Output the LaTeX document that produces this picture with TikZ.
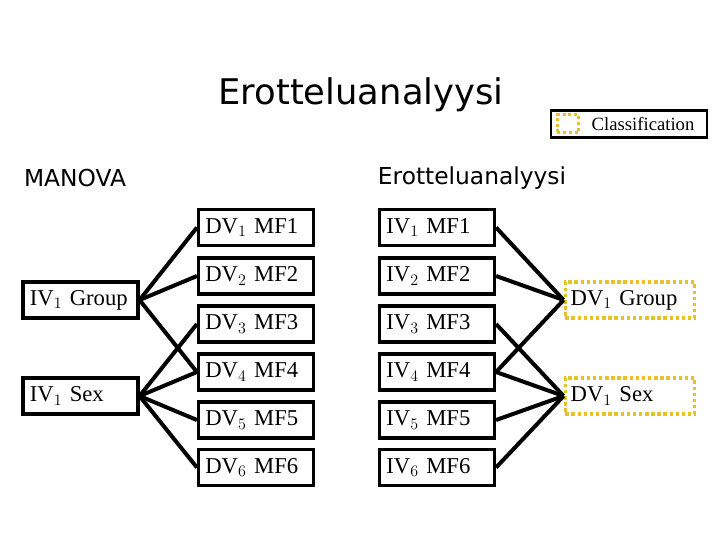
\documentclass[tikz,border=0pt]{standalone}
\usepackage{fontspec}
\setmainfont{Liberation Serif}
\newfontfamily\dejavu{DejaVu Sans}
\definecolor{ylw}{RGB}{232,192,40}
\begin{document}
\begin{tikzpicture}[x=0.75pt,y=-0.75pt,
  bx/.style={draw=black,line width=2.6pt,minimum height=27pt,inner ysep=0pt,inner xsep=5pt,text width=76pt,align=left,font=\fontsize{17}{17}\selectfont,fill=white},
  dvbox/.style={bx},
  lbox/.style={bx},
  ybox/.style={draw=ylw,line width=2.6pt,dotted,minimum height=27pt,inner ysep=0pt,inner xsep=4pt,text width=89pt,align=left,font=\fontsize{17}{17}\selectfont},
  ln/.style={line width=3pt}]
\useasboundingbox (0,0) rectangle (720,540);
\node[font=\dejavu\fontsize{26.5}{27}\selectfont] (title) at (361,95) {Erotteluanalyysi};
\node[font=\dejavu\fontsize{17.5}{18}\selectfont] (man) at (75,178) {MANOVA};
\node[font=\dejavu\fontsize{17.5}{18}\selectfont] (ero) at (472,178) {Erotteluanalyysi};
\node[draw=black,line width=1.8pt,minimum width=117pt,minimum height=20pt,inner sep=0pt] (leg) at (629,124) {};
\node[draw=ylw,line width=2.3pt,dotted,minimum width=16pt,minimum height=13pt,inner sep=0pt] (legsq) at (568,123.5) {};
\node[font=\fontsize{14}{14}\selectfont,anchor=west] (legt) at (587,124) {Classification};

\node[lbox] (g) at (80.5,300) {IV$_1$ Group};
\node[lbox] (s) at (80.5,396) {IV$_1$ Sex};
\foreach \i/\y in {1/227.5,2/276,3/324,4/372,5/420,6/467.5}{
  \node[dvbox] (d\i) at (256,\y) {DV$_\i$ MF\i};
  \node[dvbox] (v\i) at (437,\y) {IV$_\i$ MF\i};
}
\node[ybox] (yg) at (630,300) {DV$_1$ Group};
\node[ybox] (ys) at (630,396) {DV$_1$ Sex};
\foreach \k in {1,2,4} \draw[ln] (g.east) -- (d\k.west);
\foreach \k in {3,4,5,6} \draw[ln] (s.east) -- (d\k.west);
\foreach \k in {1,2,4} \draw[ln] (v\k.east) -- (yg.west);
\foreach \k in {3,4,5,6} \draw[ln] (v\k.east) -- (ys.west);
\end{tikzpicture}
\end{document}
